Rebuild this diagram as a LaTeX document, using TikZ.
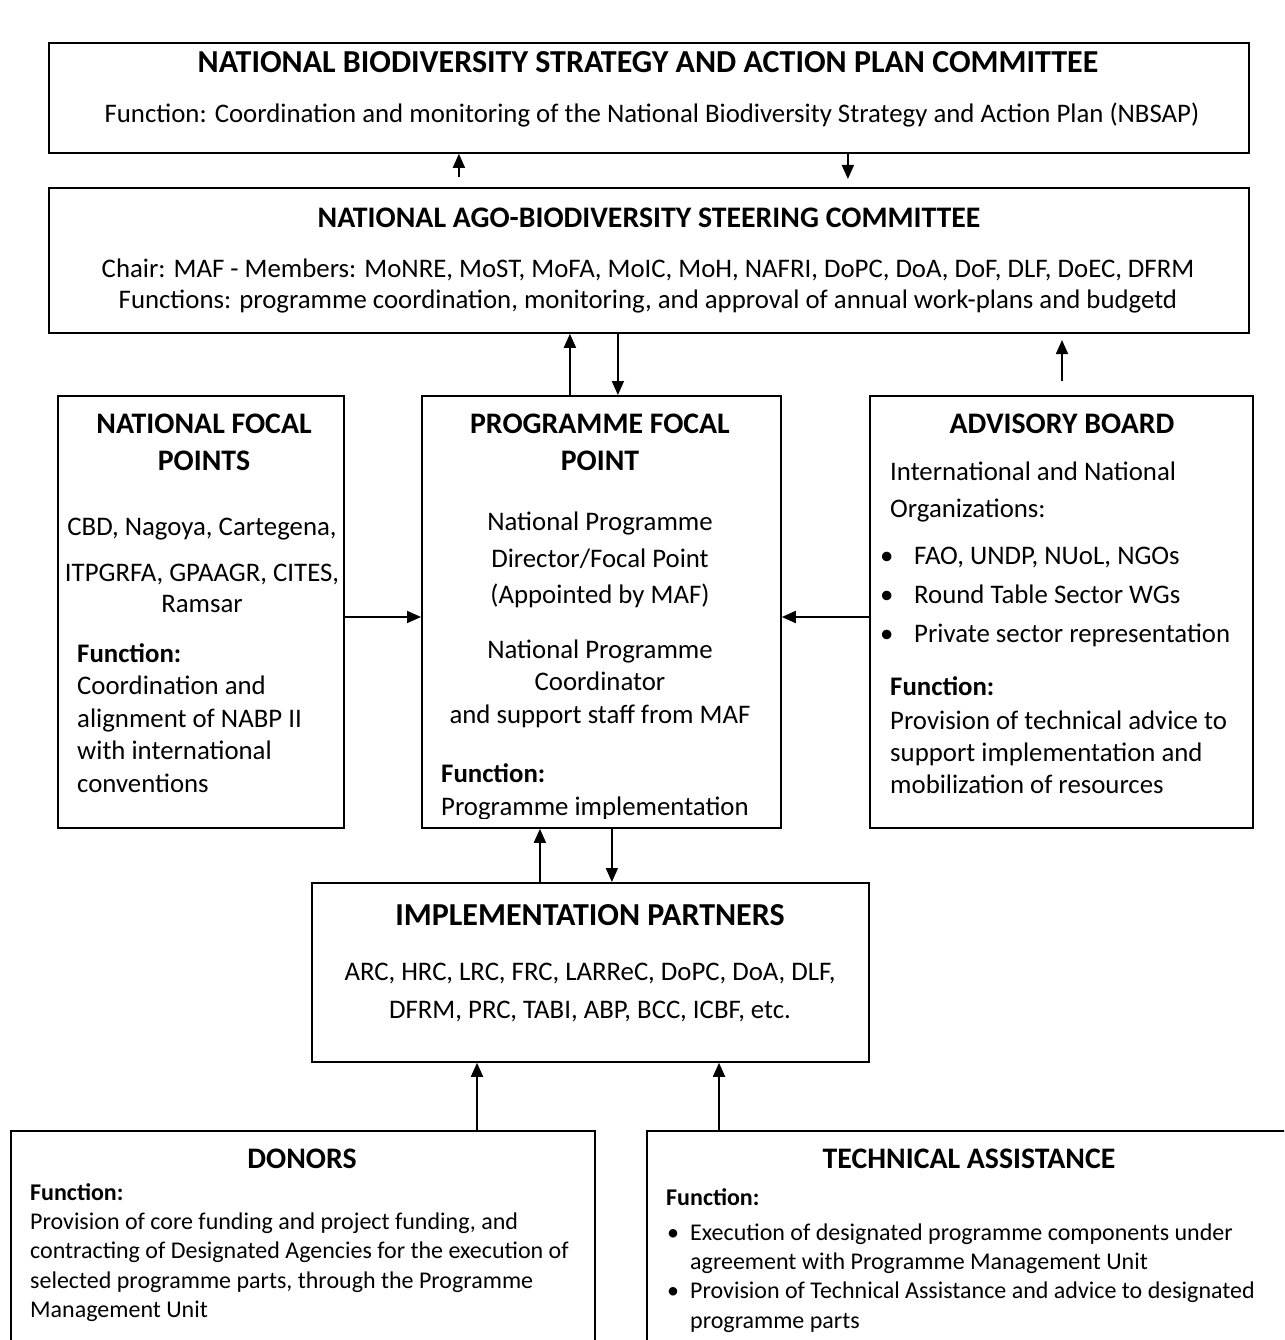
\documentclass[tikz,border=0pt]{standalone}
\usepackage{fontspec}
\setmainfont{Carlito}
\usetikzlibrary{arrows.meta}
\tikzset{
  box/.style={draw=black, line width=1.8pt, inner sep=0pt, anchor=north west},
  arr/.style={line width=1.8pt, -{Triangle[length=14pt,width=12pt]}},
  ttlbig/.style={font=\fontsize{32}{36}\selectfont\bfseries, anchor=base, inner sep=0pt},
  ttl/.style={font=\fontsize{29.8}{34}\selectfont\bfseries, anchor=base, inner sep=0pt},
  txt/.style={font=\fontsize{26.8}{31}\selectfont, anchor=base, inner sep=0pt},
  txtl/.style={font=\fontsize{26.8}{31}\selectfont, anchor=base west, inner sep=0pt},
  hdl/.style={font=\fontsize{26.8}{31}\selectfont\bfseries, anchor=base west, inner sep=0pt},
  sml/.style={font=\fontsize{24}{28}\selectfont, anchor=base west, inner sep=0pt},
  smlb/.style={font=\fontsize{24}{28}\selectfont\bfseries, anchor=base west, inner sep=0pt},
}
\begin{document}
\begin{tikzpicture}[x=1pt,y=-1pt]
\clip (0,0) rectangle (1284,1340);
\fill[white] (0,0) rectangle (1284,1340);

% boxes
\node[box, minimum width=1200pt, minimum height=110pt] (nbsap) at (48,42) {};
\node[box, minimum width=1200pt, minimum height=145pt] (sc) at (48,187) {};
\node[box, minimum width=286pt, minimum height=432pt] (nfp) at (57,395) {};
\node[box, minimum width=359pt, minimum height=432pt] (pfp) at (421,395) {};
\node[box, minimum width=383pt, minimum height=432pt] (adv) at (869,395) {};
\node[box, minimum width=557pt, minimum height=179pt] (ip) at (311,882) {};
\node[box, minimum width=584pt, minimum height=300pt] (don) at (10,1130) {};
\node[box, minimum width=700pt, minimum height=300pt] (ta) at (646,1130) {};

% NBSAP committee
\node[ttlbig] (t1) at (648,73) {NATIONAL BIODIVERSITY STRATEGY AND ACTION PLAN COMMITTEE};
\node[txt] (t1a) at (652,123) {Function: Coordination and monitoring of the National Biodiversity Strategy and Action Plan (NBSAP)};

% Steering committee
\node[ttl] (t2) at (649,228) {NATIONAL AGO-BIODIVERSITY STEERING COMMITTEE};
\node[txt] (t2a) at (648,277) {Chair: MAF - Members: MoNRE, MoST, MoFA, MoIC, MoH, NAFRI, DoPC, DoA, DoF, DLF, DoEC, DFRM};
\node[txt] (t2b) at (648,308) {Functions: programme coordination, monitoring, and approval of annual work-plans and budgetd};

% National focal points
\node[ttl] (t3) at (204,433) {NATIONAL FOCAL};
\node[ttl] (t3b) at (204,470) {POINTS};
\node[txt] (t3c) at (202,535) {CBD, Nagoya, Cartegena,};
\node[txt] (t3d) at (202,581) {ITPGRFA, GPAAGR, CITES,};
\node[txt] (t3e) at (202,612) {Ramsar};
\node[hdl] (t3f) at (77,662) {Function:};
\node[txtl] (t3g) at (77,694) {Coordination and};
\node[txtl] (t3h) at (77,727) {alignment of NABP II};
\node[txtl] (t3i) at (77,759) {with international};
\node[txtl] (t3j) at (77,792) {conventions};

% Programme focal point
\node[ttl] (t4) at (600,433) {PROGRAMME FOCAL};
\node[ttl] (t4b) at (600,470) {POINT};
\node[txt] (t4c) at (600,530) {National Programme};
\node[txt] (t4d) at (600,567) {Director/Focal Point};
\node[txt] (t4e) at (600,603) {(Appointed by MAF)};
\node[txt] (t4f) at (600,658) {National Programme};
\node[txt] (t4g) at (600,690) {Coordinator};
\node[txt] (t4h) at (600,723) {and support staff from MAF};
\node[hdl] (t4i) at (441,782) {Function:};
\begin{scope}
\clip (421,395) rectangle (780,818);
\node[txtl] (t4j) at (441,815) {Programme implementation};
\end{scope}

% Advisory board
\node[ttl] (t5) at (1062,433) {ADVISORY BOARD};
\node[txtl] (t5a) at (890,480) {International and National};
\node[txtl] (t5b) at (890,517) {Organizations:};
\node[txtl] (t5c) at (880,564) {\textbullet};
\node[txtl] (t5d) at (914,564) {FAO, UNDP, NUoL, NGOs};
\node[txtl] (t5e) at (880,603) {\textbullet};
\node[txtl] (t5f) at (914,603) {Round Table Sector WGs};
\node[txtl] (t5g) at (880,642) {\textbullet};
\node[txtl] (t5h) at (914,642) {Private sector representation};
\node[hdl] (t5i) at (890,695) {Function:};
\node[txtl] (t5j) at (890,729) {Provision of technical advice to};
\node[txtl] (t5k) at (890,761) {support implementation and};
\node[txtl] (t5l) at (890,793) {mobilization of resources};

% Implementation partners
\node[ttlbig] (t6) at (590,925) {IMPLEMENTATION PARTNERS};
\node[txt] (t6a) at (590,980) {ARC, HRC, LRC, FRC, LARReC, DoPC, DoA, DLF,};
\node[txt] (t6b) at (590,1018) {DFRM, PRC, TABI, ABP, BCC, ICBF, etc.};

% Donors
\node[ttl] (t7) at (302,1168) {DONORS};
\node[smlb] (t7a) at (30,1200) {Function:};
\node[sml] (t7b) at (30,1229) {Provision of core funding and project funding, and};
\node[sml] (t7c) at (30,1258) {contracting of Designated Agencies for the execution of};
\node[sml] (t7d) at (30,1288) {selected programme parts, through the Programme};
\node[sml] (t7e) at (30,1317) {Management Unit};

% Technical assistance
\node[ttl] (t8) at (969,1168) {TECHNICAL ASSISTANCE};
\node[smlb] (t8a) at (666,1205) {Function:};
\node[sml] (t8b) at (667,1240) {\textbullet};
\node[sml] (t8c) at (690,1240) {Execution of designated programme components under};
\node[sml] (t8d) at (690,1269) {agreement with Programme Management Unit};
\node[sml] (t8e) at (667,1298) {\textbullet};
\node[sml] (t8f) at (690,1298) {Provision of Technical Assistance and advice to designated};
\node[sml] (t8g) at (690,1328) {programme parts};

% free ends
\coordinate (u1) at ([xshift=-190pt]nbsap.south |- 0,177);
\coordinate (d1) at ([xshift=199pt]nbsap.south |- 0,179);
\coordinate (a1) at (1062,381);
\coordinate (a2) at (1062,340);

% connectors
\draw[arr] (u1) -- (u1 |- nbsap.south);
\draw[arr] (d1 |- nbsap.south) -- (d1);
\draw[arr] ([xshift=-31.5pt]pfp.north) -- ([xshift=-31.5pt]pfp.north |- sc.south);
\draw[arr] ([xshift=16.5pt]pfp.north |- sc.south) -- ([xshift=16.5pt]pfp.north);
\draw[arr] (a1) -- (a2);
\draw[arr] (nfp.east |- 0,617) -- (pfp.west |- 0,617);
\draw[arr] (adv.west |- 0,617) -- (pfp.east |- 0,617);
\draw[arr] ([xshift=-50.5pt]ip.north) -- ([xshift=-50.5pt]ip.north |- pfp.south);
\draw[arr] ([xshift=21.5pt]ip.north |- pfp.south) -- ([xshift=21.5pt]ip.north);
\draw[arr] (don.north -| 477,0) -- (ip.south -| 477,0);
\draw[arr] (ta.north -| 719,0) -- (ip.south -| 719,0);
\end{tikzpicture}
\end{document}
